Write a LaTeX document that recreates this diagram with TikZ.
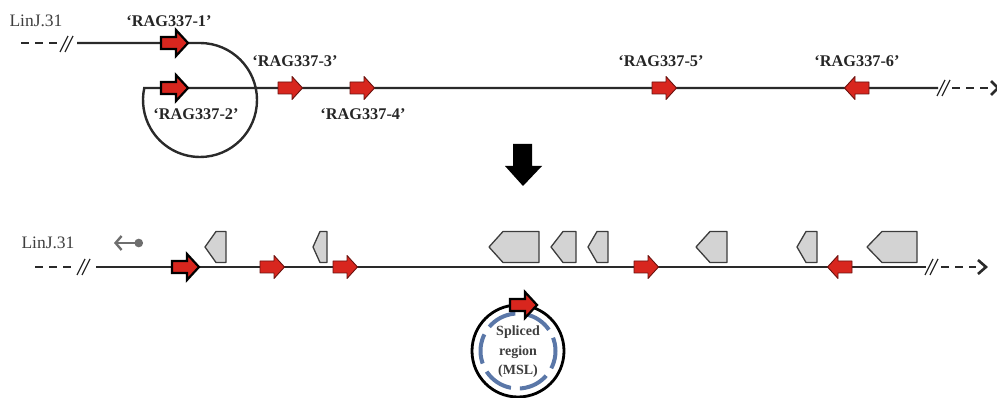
\documentclass[tikz,border=0pt]{standalone}
\usepackage{fontspec}
\setmainfont{Liberation Serif}
\usetikzlibrary{arrows.meta}
\definecolor{genered}{HTML}{D8261E}
\definecolor{geneedge}{HTML}{6A120E}
\definecolor{cdsgray}{HTML}{D3D3D3}
\definecolor{cdsedge}{HTML}{3C3C3C}
\definecolor{chromline}{HTML}{2A2A2A}
\definecolor{mslblue}{HTML}{5A77A8}
\definecolor{txtgray}{HTML}{3E3E3E}
\definecolor{tetgray}{HTML}{6E6E6E}

% gray coding sequence pointing left: left x, right x, tip length
\newcommand\cdsbox[3]{%
  \draw[cdsbox] (#1,247) -- (#1+#3,231.5) -- (#2,231.5) -- (#2,262.5) -- (#1+#3,262.5) -- cycle;}

\begin{document}
\begin{tikzpicture}[x=1pt,y=-1pt,
  chrom/.style={draw=chromline,line width=2.4pt},
  dashend/.style={draw=chromline,line width=2.5pt,dash pattern=on 8pt off 6pt},
  cdsbox/.style={fill=cdsgray,draw=cdsedge,line width=1.3pt,line join=round},
  lbl/.style={font=\bfseries\fontsize{16.3}{18}\selectfont,inner sep=0pt,text=black!85},
  chrlbl/.style={font=\fontsize{17.5}{20}\selectfont,text=txtgray,inner sep=0pt},
  gene/.pic={\filldraw[fill=genered,draw=geneedge,line width=0.9pt,line join=round]
    (-12,-6) -- (2,-6) -- (2,-11.5) -- (12.5,0) -- (2,11.5) -- (2,6) -- (-12,6) -- cycle;},
  genefirst/.pic={\filldraw[fill=genered,draw=black,line width=2.2pt,line join=miter]
    (-13,-6) -- (2,-6) -- (2,-13) -- (14,0) -- (2,13) -- (2,6) -- (-13,6) -- cycle;},
  brk/.pic={\draw[draw=chromline,line width=1.3pt] (-7,8) -- (1,-8) (-2,8) -- (6,-8);}
]
\useasboundingbox (0,0) rectangle (997,398);

% ---------- upper map: before splicing ----------
\coordinate (T1dash) at (21,43);
\coordinate (T1brk)  at (58,43);
\coordinate (T1a)    at (77,43);
\coordinate (T1loop) at (200,43);
\coordinate (T2end)  at (938,88);
\coordinate (T2dash) at (952,88);

\draw[dashend] (T1dash) -- (T1brk);
\pic at (67,44) {brk};
\draw[chrom] (T1a) -- (T1loop) arc[start angle=-90,end angle=192.2,radius=57] -- (T2end);
\pic at (944,88) {brk};
\draw[dashend] (T2dash) -- (988,88);
\draw[draw=chromline,line width=2.6pt] (991,81) -- (998,88) -- (991,95);

\pic at (174,43) {genefirst};
\pic at (174,88) {genefirst};
\pic at (290,88) {gene};
\pic at (362,88) {gene};
\pic at (664,88) {gene};
\pic[xscale=-1] at (857,88) {gene};

\node[chrlbl] (chrA) at (36,21) {LinJ.31};
\node[lbl] (r1) at (169,21) {‘RAG337-1’};
\node[lbl] (r2) at (196,114) {‘RAG337-2’};
\node[lbl] (r3) at (295,61) {‘RAG337-3’};
\node[lbl] (r4) at (363,114) {‘RAG337-4’};
\node[lbl] (r5) at (661,61) {‘RAG337-5’};
\node[lbl] (r6) at (857,61) {‘RAG337-6’};

% ---------- big down arrow ----------
\fill[black] (513,144) -- (532,144) -- (532,166) -- (542,166) -- (523,186)
  -- (505,166) -- (513,166) -- cycle;

% ---------- lower map: after splicing ----------
\coordinate (B1dash) at (35,267);
\coordinate (B1brk)  at (73,267);
\coordinate (B1a)    at (96,267);
\coordinate (B1b)    at (926,267);
\coordinate (B2dash) at (941,267);

\draw[dashend] (B1dash) -- (B1brk);
\pic at (84,267) {brk};
\draw[chrom] (B1a) -- (B1b);
\pic at (932,267) {brk};
\draw[dashend] (B2dash) -- (976,267);
\draw[draw=chromline,line width=2.6pt] (978,260) -- (986,267) -- (978,274);

\node[chrlbl] (chrB) at (48,243) {LinJ.31};

% telomere-directed marker
\coordinate (tA) at (143,243);
\coordinate (tB) at (114,243);
\draw[draw=tetgray,line width=2.4pt,{Circle[length=8.5pt]}-{Straight Barb[length=6pt,width=14pt,line width=2.4pt]}] (tA) -- (tB);

% gray coding sequences
\cdsbox{205}{226}{11}
\cdsbox{313}{327}{7}
\cdsbox{489}{539}{14}
\cdsbox{551}{576}{12}
\cdsbox{588}{608}{9}
\cdsbox{696}{727}{14}
\cdsbox{797}{817}{9}
\cdsbox{867}{917}{15}

\pic at (185,267) {genefirst};
\pic at (272,267) {gene};
\pic at (345,267) {gene};
\pic at (646,267) {gene};
\pic[xscale=-1] at (840,267) {gene};

% spliced circle
\coordinate (mslc) at (518,351);
\draw[draw=mslblue,line width=4pt,dash pattern=on 30pt off 9pt,dash phase=12pt] (mslc) circle[radius=37.5];
\draw[draw=black,line width=2.8pt] (mslc) circle[radius=46];
\pic at (523,305) {genefirst};
\node[font=\bfseries\fontsize{14}{19.5}\selectfont,align=center,text=txtgray,inner sep=0pt] (msl) at (518,352)
  {Spliced\\region\\(MSL)};

\end{tikzpicture}
\end{document}
